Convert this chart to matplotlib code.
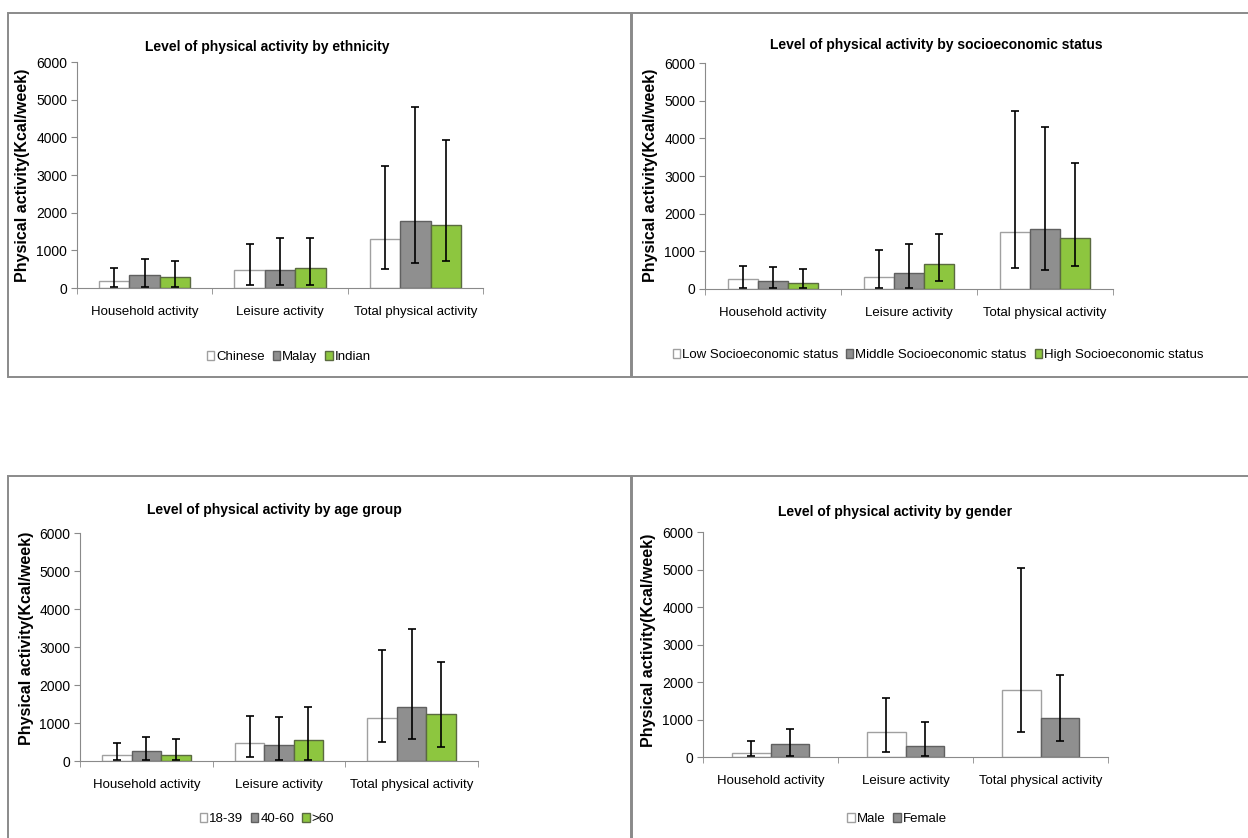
import matplotlib
matplotlib.use('Agg')
import matplotlib.pyplot as plt
from matplotlib.patches import Rectangle
import numpy as np

plt.rcParams['font.family'] = ['Liberation Sans', 'DejaVu Sans']

W, H = 1248, 838

activities = ['Household activity', 'Leisure activity', 'Total physical activity']

# ethnicity
eth_groups = ['Chinese', 'Malay', 'Indian']
eth_mean = [[190, 470, 1300], [335, 475, 1775], [300, 540, 1660]]
eth_low = [[20, 70, 495], [25, 70, 660], [25, 70, 725]]
eth_high = [[520, 1165, 3235], [760, 1315, 4800], [715, 1335, 3940]]

# socioeconomic status
ses_groups = ['Low Socioeconomic status', 'Middle Socioeconomic status',
              'High Socioeconomic status']
ses_mean = [[257, 320, 1507], [222, 417, 1596], [168, 674, 1365]]
ses_low = [[25, 25, 560], [25, 25, 497], [25, 213, 603]]
ses_high = [[612, 1028, 4716], [576, 1188, 4291], [540, 1454, 3333]]

# age group
age_groups = ['18-39', '40-60', '>60']
age_mean = [[150, 484, 1143], [264, 413, 1434], [150, 563, 1231]]
age_low = [[18, 106, 493], [18, 18, 589], [18, 18, 369]]
age_high = [[475, 1196, 2920], [642, 1161, 3474], [572, 1425, 2603]]

# gender
sex_groups = ['Male', 'Female']
sex_mean = [[116, 676, 1787], [338, 302, 1040]]
sex_low = [[27, 124, 667], [27, 27, 418]]
sex_high = [[436, 1573, 5049], [747, 933, 2196]]

fills = ['white', '#8f8f8f', '#8dc63f']
edges = ['#a0a0a0', '#606060', '#5a6a40']

fig = plt.figure(figsize=(W / 100, H / 100), dpi=100)


def fx(x):
    return x / W


def fy(y):
    return 1 - y / H


def frame(x0, y0, x1, y1):
    fig.patches.append(Rectangle((fx(x0), fy(y1)), fx(x1 - x0), (y1 - y0) / H,
                                 transform=fig.transFigure, fill=False,
                                 edgecolor='#8a8a8a', linewidth=1.4))


def panel(box, title, title_xy, ylab_xy, legend_xy, groups, mean, low, high, width):
    x0, y0, x1, y1 = box
    ax = fig.add_axes([fx(x0), fy(y1), fx(x1 - x0), (y1 - y0) / H])
    n = len(groups)
    x = np.arange(len(activities))
    for i in range(n):
        pos = x + (i - (n - 1) / 2) * width
        m = np.array(mean[i])
        lo = m - np.array(low[i])
        hi = np.array(high[i]) - m
        ax.bar(pos, m, width, color=fills[i], edgecolor=edges[i],
               linewidth=1.0, label=groups[i], zorder=2)
        ax.errorbar(pos, m, yerr=[lo, hi], fmt='none', ecolor='black',
                    elinewidth=1.2, capsize=3, capthick=1.2, zorder=3)
    ax.set_xlim(-0.5, 2.5)
    ax.set_ylim(0, 6000)
    ax.set_yticks(range(0, 6001, 1000))
    ax.set_xticks(x)
    ax.set_xticklabels(activities)
    ax.set_xticks([-0.5, 0.5, 1.5, 2.5], minor=True)
    ax.tick_params(axis='x', which='major', length=0, pad=13, labelsize=9.5)
    ax.tick_params(axis='x', which='minor', length=4, color='#8a8a8a')
    ax.tick_params(axis='y', length=4, color='#8a8a8a', labelsize=10, pad=3)
    for s in ['top', 'right']:
        ax.spines[s].set_visible(False)
    for s in ['left', 'bottom']:
        ax.spines[s].set_color('#8a8a8a')
    fig.text(fx(title_xy[0]), fy(title_xy[1]), title, ha='center', va='center',
             fontsize=10, fontweight='bold')
    fig.text(fx(ylab_xy[0]), fy(ylab_xy[1]), 'Physical activity(Kcal/week)',
             rotation=90, ha='center', va='center', fontsize=11.5,
             fontweight='bold')
    ax.legend(loc='center', bbox_to_anchor=(fx(legend_xy[0]), fy(legend_xy[1])),
              bbox_transform=fig.transFigure, ncol=n, frameon=False,
              fontsize=9.5, handlelength=0.55, handleheight=0.75,
              handletextpad=0.15, columnspacing=0.6, borderpad=0)
    return ax


frame(8, 13, 631, 377)
frame(632, 13, 1252, 377)
frame(8, 476, 631, 842)
frame(632, 476, 1252, 842)

panel((77, 62, 483, 288), 'Level of physical activity by ethnicity', (267, 47),
      (23, 175), (289, 357), eth_groups, eth_mean, eth_low, eth_high, 0.225)
panel((705, 63, 1113, 289), 'Level of physical activity by socioeconomic status',
      (936, 45), (651, 175), (938, 355), ses_groups, ses_mean, ses_low,
      ses_high, 0.222)
panel((80, 533, 478, 761), 'Level of physical activity by age group', (274, 510),
      (27, 638), (267, 819), age_groups, age_mean, age_low, age_high, 0.222)
panel((703, 532, 1108, 757), 'Level of physical activity by gender', (895, 512),
      (648, 640), (897, 819), sex_groups, sex_mean, sex_low, sex_high, 0.285)

fig.savefig('out.png', dpi=100)
